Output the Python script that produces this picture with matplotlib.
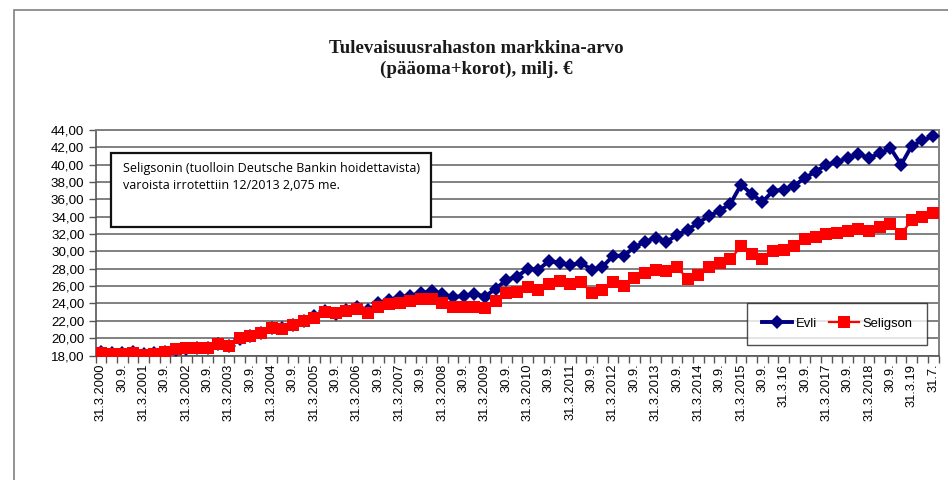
import matplotlib
matplotlib.use("Agg")
import matplotlib.pyplot as plt
from matplotlib.patches import Rectangle
from matplotlib.ticker import FixedLocator, FuncFormatter

# ---- data ----
years = list(range(2000, 2020))
categories = []
for y in years:
    for q in ["31.3.", "30.6.", "30.9.", "31.12."]:
        categories.append(q + str(y))
categories = categories[:77] + ["30.6.2019", "31.7.2019"]

evli = [18.4, 18.3, 18.3, 18.4, 18.2, 18.3, 18.4, 18.6, 18.8, 18.9,
        18.9, 19.3, 19.1, 19.9, 20.2, 20.6, 21.2, 21.2, 21.5, 22.0,
        22.5, 23.1, 22.8, 23.2, 23.6, 23.2, 24.0, 24.4, 24.7, 24.9,
        25.2, 25.4, 25.1, 24.7, 24.9, 25.1, 24.8, 25.7, 26.7, 27.1,
        28.0, 27.9, 28.9, 28.7, 28.4, 28.7, 27.9, 28.2, 29.5, 29.5,
        30.5, 31.1, 31.6, 31.1, 31.9, 32.5, 33.3, 34.1, 34.7, 35.5,
        37.7, 36.6, 35.7, 37.0, 37.1, 37.6, 38.5, 39.2, 40.0, 40.3,
        40.8, 41.2, 40.8, 41.3, 41.9, 40.0, 42.2, 42.8, 43.3]

seligson = [18.3, 18.2, 18.2, 18.3, 18.1, 18.2, 18.4, 18.7, 18.9, 18.9,
            18.9, 19.3, 19.1, 20.0, 20.2, 20.6, 21.2, 21.1, 21.5, 22.0,
            22.3, 23.0, 22.9, 23.1, 23.4, 22.9, 23.6, 23.9, 24.1, 24.3,
            24.5, 24.5, 24.1, 23.6, 23.6, 23.6, 23.5, 24.3, 25.2, 25.3,
            25.9, 25.6, 26.3, 26.6, 26.3, 26.5, 25.2, 25.5, 26.5, 26.0,
            26.9, 27.5, 27.9, 27.7, 28.2, 26.8, 27.3, 28.2, 28.7, 29.1,
            30.6, 29.7, 29.1, 30.0, 30.2, 30.6, 31.4, 31.7, 32.0, 32.1,
            32.4, 32.6, 32.4, 32.8, 33.2, 32.0, 33.6, 34.0, 34.4]

tick_labels = ["31.3.2000", "30.9.", "31.3.2001", "30.9.", "31.3.2002", "30.9.",
               "31.3.2003", "30.9.", "31.3.2004", "30.9.", "31.3.2005", "30.9.",
               "31.3.2006", "30.9.", "31.3.2007", "30.9.", "31.3.2008", "30.9.",
               "31.3.2009", "30.9.", "31.3.2010", "30.9.", "31.3.2011", "30.9.",
               "31.3.2012", "30.9.", "31.3.2013", "30.9.", "31.3.2014", "30.9.",
               "31.3.2015", "30.9.", "31.3.16", "30.9.", "31.3.2017", "30.9.",
               "31.3.2018", "30.9.", "31.3.19", "31.7."]

y_ticks = [18, 20, 22, 24, 26, 28, 30, 32, 34, 36, 38, 40, 42, 44]

title = "Tulevaisuusrahaston markkina-arvo\n(pääoma+korot), milj. €"
note = "Seligsonin (tuolloin Deutsche Bankin hoidettavista)\nvaroista irrotettiin 12/2013 2,075 me."

# ---- figure ----
W, H = 948, 480
fig = plt.figure(figsize=(W / 100, H / 100), dpi=100)
fig.patch.set_facecolor("white")

# outer chart border (left and top visible, right runs off the image)
fig.add_artist(Rectangle((14 / W, -0.01), (W + 10) / W, 1 - 10 / H + 0.01,
                         transform=fig.transFigure, fill=False,
                         edgecolor="#808080", linewidth=1.2))

fig.text(476 / W, 1 - 59 / H, title, ha="center", va="center",
         fontfamily="Liberation Serif", fontweight="bold", fontsize=13.6,
         linespacing=1.3, color="#1a1a1a")

ax = fig.add_axes([95.5 / W, 1 - 355.5 / H, 843 / W, 225.5 / H])
x = list(range(len(categories)))

ax.plot(x, seligson, color="#ff0000", linewidth=1.6, marker="s", markersize=8.5,
        markeredgewidth=0, label="Seligson", zorder=4)
ax.plot(x, evli, color="#000080", linewidth=2.8, marker="D", markersize=7,
        markeredgewidth=0, label="Evli", zorder=3)

ax.set_xlim(-0.5, len(categories) - 0.5)
ax.set_ylim(18, 44)
ax.set_yticks(y_ticks)
ax.yaxis.set_major_formatter(FuncFormatter(lambda v, p: f"{v:.2f}".replace(".", ",")))
ax.grid(axis="y", color="#808080", linewidth=1.4)
ax.set_axisbelow(True)

major_pos = list(range(0, len(categories), 2))
ax.set_xticks(major_pos)
ax.set_xticklabels(tick_labels, rotation=90, fontfamily="Liberation Sans", fontsize=9.3)
ax.xaxis.set_minor_locator(FixedLocator([i - 0.5 for i in range(len(categories) + 1)]))
ax.tick_params(axis="x", which="major", length=0, pad=6)
ax.tick_params(axis="x", which="minor", length=5, width=1, color="#555555")
ax.tick_params(axis="y", length=5, width=1, color="#555555", pad=3, labelsize=9.6)
for lab in ax.get_yticklabels():
    lab.set_fontfamily("Liberation Sans")

for s in ["left", "bottom"]:
    ax.spines[s].set_color("#555555")
    ax.spines[s].set_linewidth(1.2)
for s in ["right", "top"]:
    ax.spines[s].set_color("#808080")
    ax.spines[s].set_linewidth(1.4)

# note box
ax.text((123 - 95.5) / 843, (355.5 - 162) / 225.5, note, transform=ax.transAxes,
        ha="left", va="top", fontfamily="Open Sans", fontsize=9.0,
        linespacing=1.45, zorder=6)
ax.add_patch(Rectangle(((110.5 - 95.5) / 843, (355.5 - 227.5) / 225.5),
                       (430.5 - 110.5) / 843, (227.5 - 153) / 225.5,
                       transform=ax.transAxes, facecolor="white", edgecolor="#111111",
                       linewidth=1.6, zorder=5))

handles, labels = ax.get_legend_handles_labels()
leg = ax.legend(handles[::-1], labels[::-1], loc="lower right", ncol=2,
                bbox_to_anchor=((927 - 95.5) / 843, (355.5 - 345) / 225.5),
                frameon=True, fancybox=False, edgecolor="#222222",
                prop={"family": "Liberation Sans", "size": 9.4},
                handlelength=2.3, columnspacing=0.9, handletextpad=0.25,
                borderpad=1.15, borderaxespad=0)
leg.get_frame().set_linewidth(1.0)
leg.set_zorder(7)

fig.savefig("out.png", dpi=100, facecolor="white")
